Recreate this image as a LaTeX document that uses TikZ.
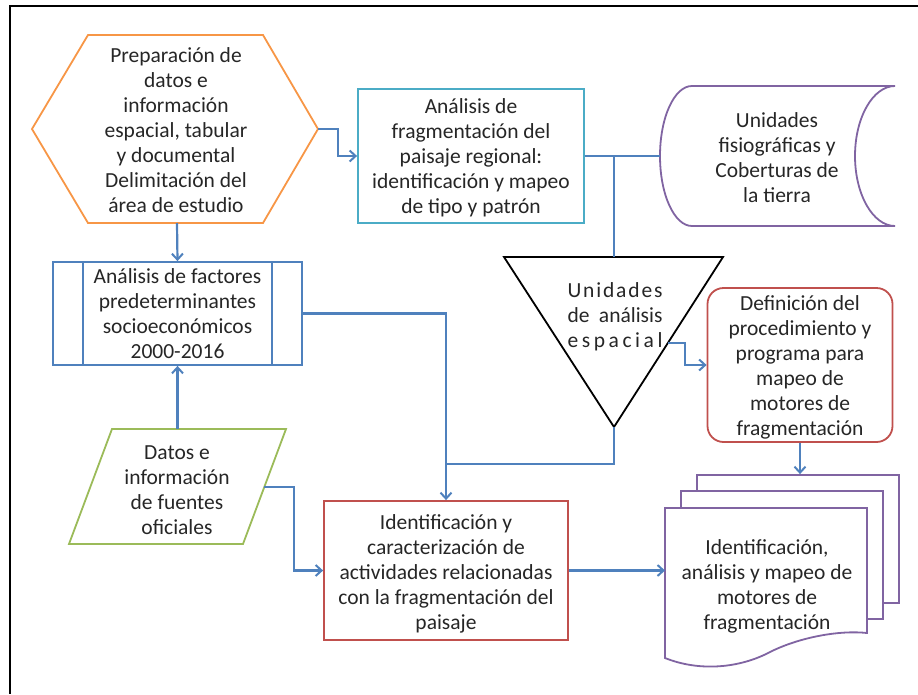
\documentclass[tikz,border=0pt]{standalone}
\usepackage{fontspec}
\setmainfont{Carlito}
\usetikzlibrary{arrows.meta}
\definecolor{cOrange}{HTML}{F79646}
\definecolor{cAqua}{HTML}{4BACC6}
\definecolor{cPurple}{HTML}{8064A2}
\definecolor{cRed}{HTML}{C0504D}
\definecolor{cGreen}{HTML}{9BBB59}
\definecolor{cBlue}{HTML}{4F81BD}
\begin{document}
\begin{tikzpicture}[x=1pt,y=-1pt,
  every node/.style={font=\fontsize{21.5}{25}\selectfont, align=center, inner sep=0pt},
  shp/.style={line width=1.8pt},
  boxst/.style={shp, draw=#1, fill=white},
  conn/.style={draw=cBlue, line width=2.2pt},
  arr/.style={conn, -{Straight Barb[length=6pt,width=11pt,line width=2pt]}},
  txt/.style={text=black!85}
]
\useasboundingbox (0,0) rectangle (918,694);
% frame
\coordinate (frTL) at (10,6);
\coordinate (frTR) at (918,6);
\coordinate (frBL) at (10,694);
\draw[line width=2.5pt] (frTR) -- (frTL) -- (frBL);

% hexagon
\draw[shp, draw=cOrange] (32,129) -- (88,35) -- (263,35) -- (318,129) -- (263,223) -- (88,223) -- cycle;
\node[txt] (prep) at (176,130) {Preparación de\\datos e\\información\\espacial, tabular\\y documental\\Delimitación del\\área de estudio};
\coordinate (hexR) at (318,129);
\coordinate (hexB) at (177,223);

% fragmentation box
\node[boxst=cAqua, minimum width=226pt, minimum height=134pt] (frag) at (471,156) {};
\node[txt] (fragt) at (471,158) {Análisis de\\fragmentación del\\paisaje regional:\\identificación y mapeo\\de tipo y patrón};

% stored data
\draw[shp, draw=cPurple] (692,86) .. controls (674.3,86) and (660,117.4) .. (660,156)
  .. controls (660,194.6) and (674.3,226) .. (692,226) -- (895,226)
  .. controls (873,226) and (855,194.6) .. (855,156)
  .. controls (855,117.4) and (873,86) .. (895,86) -- cycle;
\node[txt] (units) at (777,158) {Unidades\\fisiográficas y\\Coberturas de\\la tierra};
\coordinate (stL) at (660,156);

% triangle
\draw[shp, draw=black] (504,257) -- (723,257) -- (614,427) -- cycle;
\coordinate (triT) at (614,257);
\coordinate (triB) at (614,427);
\coordinate (triE) at (668,343);
\node[txt] (tri) at (615,317) {\hbox to 95pt{U\hfil n\hfil i\hfil d\hfil a\hfil d\hfil e\hfil s}\\\hbox to 95pt{de\hfil análisis}\\\hbox to 95pt{e\hfil s\hfil p\hfil a\hfil c\hfil i\hfil a\hfil l}};

% definition rounded box
\node[boxst=cRed, rounded corners=16pt, minimum width=185pt, minimum height=154pt] (defin) at (800,365) {};
\node[txt] (defint) at (800,367) {Definición del\\procedimiento y\\programa para\\mapeo de\\motores de\\fragmentación};

% multi-document
\node[boxst=cPurple, minimum width=202pt, minimum height=128pt] (docB) at (798,539) {};
\node[boxst=cPurple, minimum width=202pt, minimum height=128pt] (docM) at (782,555) {};
\draw[shp, draw=cPurple, fill=white] (665,508) -- (867,508) -- (867,633)
  .. controls (840,630) and (800,637) .. (770,652)
  .. controls (740,668) and (700,672) .. (665,658) -- cycle;
\node[txt] (doct) at (767,586) {Identificación,\\análisis y mapeo de\\motores de\\fragmentación};
\coordinate (docF) at (665,571);

% process box
\node[boxst=cBlue, minimum width=249pt, minimum height=103pt] (proc) at (177.5,313.5) {};
\draw[shp, draw=cBlue] ([xshift=31pt]proc.north west) -- ([xshift=31pt]proc.south west);
\draw[shp, draw=cBlue] ([xshift=-31pt]proc.north east) -- ([xshift=-31pt]proc.south east);
\node[txt] (proct) at (177.5,314) {Análisis de factores\\predeterminantes\\socioeconómicos\\2000-2016};

% parallelogram
\draw[shp, draw=cGreen] (112,429) -- (286,429) -- (243,544) -- (69,544) -- cycle;
\node[txt] (datos) at (177,490) {Datos e\\información\\de fuentes\\oficiales};
\coordinate (paraT) at (177.5,429);
\coordinate (paraR) at (264,487);
\coordinate (bendP) at (294,487);

% red box
\node[boxst=cRed, minimum width=244pt, minimum height=139pt] (ident) at (446,570.5) {};
\node[txt] (identt) at (446,574) {Identificación y\\caracterización de\\actividades relacionadas\\con la fragmentación del\\paisaje};
\coordinate (join) at (446,464);

% connectors
\draw[arr] (hexR) -- ++(20,0) |- (frag.west);
\draw[conn] (frag.east) -- (stL);
\draw[conn] (triT |- frag.east) -- (triT);
\draw[arr] (triE) -- ++(17,0) |- (defin.west);
\draw[arr] (defin.south) -- (defin.south |- docB.north);
\draw[arr] (hexB) -- (proc.north);
\draw[arr] (paraT) -- (proc.south);
\draw[arr] (proc.east) -| (ident.north);
\draw[conn] (triB) |- (join);
\draw[arr] (paraR) -- (bendP) |- (ident.west);
\draw[arr] (ident.east) -- (ident.east -| docF);
\end{tikzpicture}
\end{document}
